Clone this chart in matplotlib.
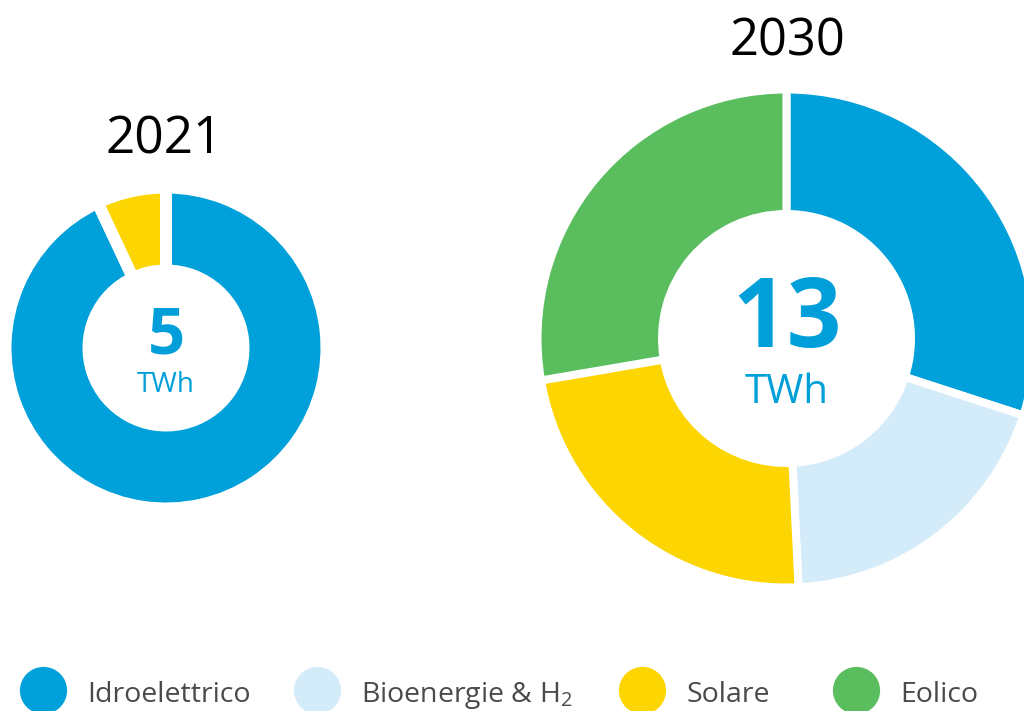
import matplotlib
matplotlib.use("Agg")
from matplotlib import pyplot as plt

# data
categories = ["Idroelettrico", "Bioenergie & H$_2$", "Solare", "Eolico"]
colors = ["#00a0da", "#d4ebf9", "#fdd500", "#5abd5e"]
years = ["2021", "2030"]
values_2021 = [4.65, 0.0, 0.35, 0.0]
values_2030 = [3.9, 2.5, 3.0, 3.6]
totals = ["5", "13"]

H = 711
plt.rcParams['font.family'] = ['Open Sans', 'DejaVu Sans']
plt.rcParams['mathtext.fontset'] = 'custom'
plt.rcParams['mathtext.rm'] = 'Open Sans'

fig = plt.figure(figsize=(10.24, 7.11), dpi=100)
ax = fig.add_axes([0, 0, 1, 1])


def donut(values, cx, cy, r_out, r_in, gap_px):
	vals = [v for v in values if v > 0]
	cols = [c for v, c in zip(values, colors) if v > 0]
	r = r_out + gap_px / 2
	ri = r_in - gap_px / 2
	ax.pie(vals, colors=cols, center=(cx, H - cy), radius=r, startangle=90,
		   counterclock=False,
		   wedgeprops=dict(width=r - ri, edgecolor="white", linewidth=gap_px * 72 / 100))


donut(values_2021, 166, 348, 154.5, 83.5, 12)
donut(values_2030, 786.5, 338.5, 245, 128.5, 8)

blue = "#009fda"
# year titles
ax.text(164, H - 153, years[0], ha="center", va="baseline", fontsize=37, color="black")
ax.text(787.5, H - 55, years[1], ha="center", va="baseline", fontsize=36.5, color="black")

# totals
ax.text(166, H - 353, totals[0], ha="center", va="baseline", fontsize=47, fontweight="bold", color=blue)
ax.text(166, H - 391.5, "TWh", ha="center", va="baseline", fontsize=20, color=blue)
ax.text(787, H - 346.5, totals[1], ha="center", va="baseline", fontsize=69, fontweight="bold", color=blue)
ax.text(787, H - 403, "TWh", ha="center", va="baseline", fontsize=29, color=blue)

# legend
leg_x = [43, 317, 642, 856]
for x, lab, col in zip(leg_x, categories, colors):
	ax.scatter([x], [H - 690], s=34 ** 2, color=col, linewidths=0, clip_on=False)
	ax.text(x + 44, H - 702, lab, ha="left", va="baseline", fontsize=20.5, color="#4a4a4a")

ax.set_xlim(0, 1024)
ax.set_ylim(0, H)
ax.axis("off")
fig.savefig("out.png", dpi=100)
